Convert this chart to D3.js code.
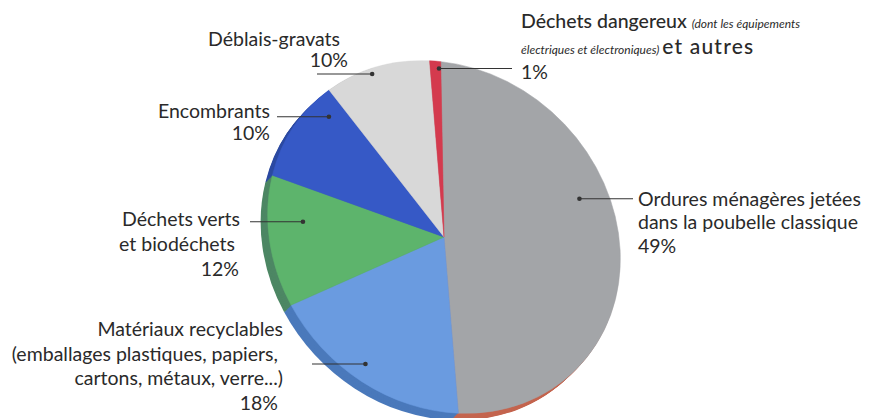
<!DOCTYPE html>
<html><head><meta charset="utf-8">
<script src="https://cdn.jsdelivr.net/npm/d3@7"></script>
<style>
html,body{margin:0;padding:0;background:#fff;}
svg{display:block;}
text{font-family:Lato,"Open Sans",sans-serif;fill:#2a2a2a;}
</style></head><body>
<svg id="chart" width="870" height="418"></svg>
<script>
// ---- data ----
const categories = [
  "Ordures ménagères jetées dans la poubelle classique",
  "Matériaux recyclables",
  "Déchets verts et biodéchets",
  "Encombrants",
  "Déblais-gravats",
  "Déchets dangereux et autres"
];
const values = [49, 18, 12, 10, 10, 1];
const percentLabels = ["49%", "18%", "12%", "10%", "10%", "1%"];
const topColors  = ["#a3a5a8", "#6a9be0", "#5db46c", "#3659c6", "#d8d8d8", "#d43a4e"];
const sideColors = ["#c4654f", "#4a79bb", "#4d8764", "#2c4aa2", "#a9a9a9", "#9e2a3a"];

// ---- layout ----
const W = 870, H = 418;
const cx = 444, cy = 237, R = 175, rxA = 187, ryB = 165, tilt = 45;
const depth = [-7, 7];
const startDeg = -42.5;
// leader dot position inside each slice: [fraction of slice angle, fraction of radius]
const leaderPos = [[0.39, 0.83], [0.53, 0.90], [0.67, 0.80], [0.82, 0.89], [0.44, 0.97], [0.83, 0.96]];
// leader line far end x
const leaderEndX = [633, 312, 250, 277, 317, 512];

const svg = d3.select("#chart");
const pie = d3.pie().sort(null).value(d => d)
  .startAngle(startDeg * Math.PI / 180)
  .endAngle((startDeg + 360) * Math.PI / 180);
const arcs = pie(values);
const arc = d3.arc().innerRadius(0).outerRadius(R);

const tf = `rotate(${tilt}) scale(${rxA / R},${ryB / R})`;

// extrusion (side)
const N = 10;
for (let i = N; i >= 1; i--) {
  const g = svg.append("g")
    .attr("transform", `translate(${cx + depth[0] * i / N},${cy + depth[1] * i / N}) ${tf}`);
  g.selectAll("path").data(arcs).join("path")
    .attr("d", arc).attr("fill", (d, j) => sideColors[j]);
}
// top face
const topFace = svg.append("g").attr("transform", `translate(${cx},${cy}) ${tf}`);
topFace.selectAll("path").data(arcs).join("path")
  .attr("d", arc)
  .attr("fill", (d, j) => topColors[j])
  .attr("stroke", (d, j) => topColors[j]).attr("stroke-width", 0.5);

// projection of local polar point to screen
function project(phi, k) {
  const x = Math.sin(phi) * k * rxA;
  const y = -Math.cos(phi) * k * ryB;
  const t = tilt * Math.PI / 180;
  return [cx + x * Math.cos(t) - y * Math.sin(t), cy + x * Math.sin(t) + y * Math.cos(t)];
}

// leaders
const leaders = svg.append("g");
arcs.forEach((a, i) => {
  const phi = a.startAngle + (a.endAngle - a.startAngle) * leaderPos[i][0];
  const p = project(phi, leaderPos[i][1]);
  leaders.append("line")
    .attr("x1", p[0]).attr("y1", p[1]).attr("x2", leaderEndX[i]).attr("y2", p[1])
    .attr("stroke", "#333").attr("stroke-width", 1.1);
  leaders.append("circle").attr("cx", p[0]).attr("cy", p[1]).attr("r", 2.3).attr("fill", "#333");
});

// labels
const fs = 19.5;
function label(x, y, anchor, parts) {
  const t = svg.append("text").attr("x", x).attr("y", y).attr("text-anchor", anchor)
    .style("font-size", fs + "px");
  parts.forEach(p => {
    const s = t.append("tspan").text(p.text);
    if (p.small) s.style("font-size", "12px").style("font-style", "italic");
    if (p.big) s.style("font-size", "19.5px").style("font-weight", "500");
    if (p.spaced) s.style("font-size", "21px").style("letter-spacing", "1.2px");
  });
  return t;
}
label(638, 206, "start", [{text: "Ordures ménagères jetées"}]);
label(638, 229, "start", [{text: "dans la poubelle classique"}]);
label(638, 253, "start", [{text: percentLabels[0]}]);

label(283, 336, "end", [{text: "Matériaux recyclables"}]);
label(278, 361, "end", [{text: "(emballages plastiques, papiers,"}]);
label(283, 385, "end", [{text: "cartons, métaux, verre...)"}]);
label(278, 410, "end", [{text: percentLabels[1]}]);

label(240, 226, "end", [{text: "Déchets verts"}]);
label(235, 251, "end", [{text: "et biodéchets"}]);
label(239, 276, "end", [{text: percentLabels[2]}]);

label(158, 118, "start", [{text: "Encombrants"}]);
label(270, 140, "end", [{text: percentLabels[3]}]);

label(208, 46, "start", [{text: "Déblais-gravats"}]);
label(348, 67, "end", [{text: percentLabels[4]}]);

label(521, 28, "start", [{text: "Déchets dangereux ", big: true}, {text: "(dont les équipements", small: true}]);
label(521, 54, "start", [{text: "électriques et électroniques) ", small: true}, {text: "et autres", big: true, spaced: true}]);
label(521, 79, "start", [{text: percentLabels[5]}]);
</script>
</body></html>
